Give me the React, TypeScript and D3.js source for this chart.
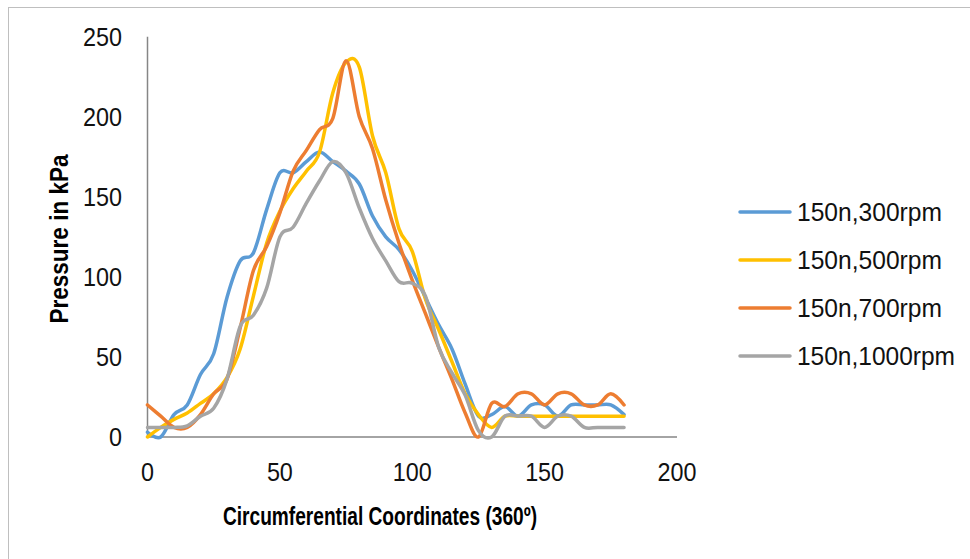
import React from "react";
import * as d3 from "d3";

const xValues = [0, 5, 10, 15, 20, 25, 30, 35, 40, 45, 50, 55, 60, 65, 70, 75, 80, 85, 90, 95, 100, 105, 110, 115, 120, 125, 130, 135, 140, 145, 150, 155, 160, 165, 170, 175, 180];

const rpm300 = [3, 0, 14, 20, 39, 52, 87, 110, 115, 142, 165, 165, 172, 178, 172, 166, 158, 138, 125, 117, 104, 87, 70, 55, 33, 13, 14, 19, 13, 20, 20, 13, 20, 20, 20, 20, 14];
const rpm500 = [0, 6, 11, 15, 21, 27, 37, 55, 88, 121, 141, 155, 166, 178, 215, 234, 231, 188, 165, 130, 116, 86, 67, 47, 27, 14, 6, 13, 13, 13, 13, 13, 13, 13, 13, 13, 13];
const rpm700 = [20, 13, 6, 6, 14, 27, 36, 68, 104, 119, 140, 166, 179, 192, 199, 235, 200, 180, 148, 121, 98, 77, 56, 36, 15, 0, 21, 19, 27, 27, 20, 27, 27, 20, 20, 27, 20];
const rpm1000 = [6, 6, 6, 7, 13, 18, 36, 69, 76, 93, 125, 131, 146, 160, 172, 165, 143, 124, 110, 97, 96, 88, 56, 40, 26, 4, 0, 13, 13, 13, 6, 13, 13, 6, 6, 6, 6];

const seriesNames = ["150n,300rpm", "150n,500rpm", "150n,700rpm", "150n,1000rpm"];
const seriesColors = ["#5B9BD5", "#FFC000", "#ED7D31", "#A5A5A5"];
const seriesValues = [rpm300, rpm500, rpm700, rpm1000];

const xTicks = [0, 50, 100, 150, 200];
const yTicks = [0, 50, 100, 150, 200, 250];

const xTitle = "Circumferential Coordinates (360º)";
const yTitle = "Pressure in kPa";

const W = 970;
const H = 559;

export default function App() {
  const x = d3.scaleLinear().domain([0, 200]).range([147.5, 677]);
  const y = d3.scaleLinear().domain([0, 250]).range([437, 36.7]);

  const line = d3
    .line<number>()
    .x((_, i) => x(xValues[i]))
    .y((d) => y(d))
    .curve(d3.curveCardinal.tension(0));

  const font = "'Liberation Sans', Arial, sans-serif";
  const digitW = 13;

  return (
    <svg
      width={W}
      height={H}
      style={{ position: "absolute", left: 0, top: 0, background: "#fff" }}
    >
      <rect x={0} y={0} width={W} height={H} fill="#fff" />
      <rect x={8.5} y={7.5} width={980} height={600} fill="none" stroke="#BFBFBF" strokeWidth={1} />

      {/* axes */}
      <line x1={x(0)} x2={x(0)} y1={y(250)} y2={y(0)} stroke="#868686" strokeWidth={1.5} />
      <line x1={x(0)} x2={x(200)} y1={y(0)} y2={y(0)} stroke="#868686" strokeWidth={1.5} />

      {/* y tick labels */}
      {yTicks.map((t) => (
        <text
          key={"y" + t}
          x={122}
          y={y(t)}
          textAnchor="end"
          dominantBaseline="central"
          fontFamily={font}
          fontSize={26}
          textLength={String(t).length * digitW}
          lengthAdjust="spacingAndGlyphs"
          fill="#111"
        >
          {t}
        </text>
      ))}

      {/* x tick labels */}
      {xTicks.map((t) => (
        <text
          key={"x" + t}
          x={x(t)}
          y={472}
          textAnchor="middle"
          dominantBaseline="central"
          fontFamily={font}
          fontSize={26}
          textLength={String(t).length * digitW}
          lengthAdjust="spacingAndGlyphs"
          fill="#111"
        >
          {t}
        </text>
      ))}

      {/* series */}
      {seriesValues.map((vals, si) => (
        <path
          key={"s" + si}
          d={line(vals) || ""}
          fill="none"
          stroke={seriesColors[si]}
          strokeWidth={3.5}
          strokeLinecap="round"
          strokeLinejoin="round"
        />
      ))}

      {/* axis titles */}
      <text
        x={380}
        y={516}
        textAnchor="middle"
        dominantBaseline="central"
        fontFamily={font}
        fontWeight="bold"
        fontSize={25}
        textLength={314}
        lengthAdjust="spacingAndGlyphs"
        fill="#000"
      >
        {xTitle}
      </text>
      <text
        transform={`translate(59,239) rotate(-90)`}
        textAnchor="middle"
        dominantBaseline="central"
        fontFamily={font}
        fontWeight="bold"
        fontSize={25}
        textLength={169}
        lengthAdjust="spacingAndGlyphs"
        fill="#000"
      >
        {yTitle}
      </text>

      {/* legend */}
      {seriesNames.map((name, i) => {
        const ly = 212 + i * 48;
        return (
          <g key={"l" + i}>
            <line x1={740} x2={790} y1={ly} y2={ly} stroke={seriesColors[i]} strokeWidth={3.5} strokeLinecap="round" />
            <text
              x={797}
              y={ly}
              dominantBaseline="central"
              fontFamily={font}
              fontSize={26}
              textLength={name.length === 11 ? 145 : 158}
              lengthAdjust="spacingAndGlyphs"
              fill="#111"
            >
              {name}
            </text>
          </g>
        );
      })}
    </svg>
  );
}
